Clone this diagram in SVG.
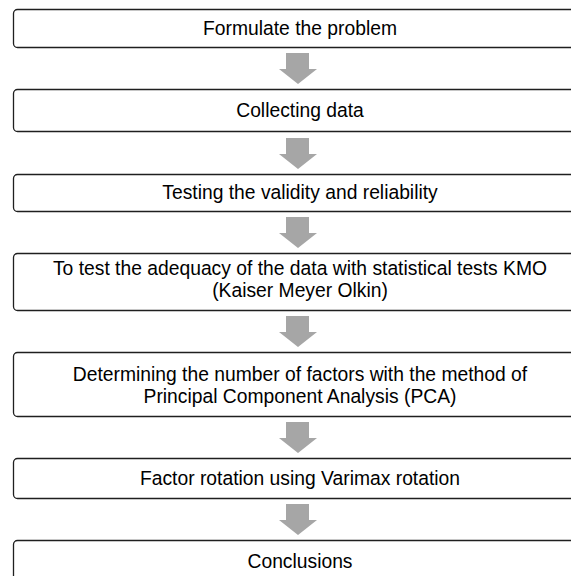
<svg xmlns="http://www.w3.org/2000/svg" width="571" height="576" viewBox="0 0 571 576">
<style>
.box{fill:#fff;stroke:#1f1f1f;stroke-width:1.3}
.t{font-family:"Liberation Sans",Arial,sans-serif;font-size:19.3px;fill:#000;text-anchor:middle}
.arr{fill:#a6a6a6}
</style>
<defs>
<path id="a" d="M286 0H309V16H317L298 31L279 16H286Z"/>
</defs>
<rect width="571" height="576" fill="#fff"/>
<g id="connectors">
<use href="#a" class="arr" y="53"/>
<use href="#a" class="arr" y="138"/>
<use href="#a" class="arr" y="217"/>
<use href="#a" class="arr" y="316"/>
<use href="#a" class="arr" y="422"/>
<use href="#a" class="arr" y="504"/>
</g>
<g id="n1"><rect class="box" x="13.5" y="9.5" width="573" height="38" rx="4"/><text class="t" x="300" y="35">Formulate the problem</text></g>
<g id="n2"><rect class="box" x="13.5" y="89.5" width="573" height="42" rx="4"/><text class="t" x="300" y="117">Collecting data</text></g>
<g id="n3"><rect class="box" x="13.5" y="174.5" width="573" height="37" rx="4"/><text class="t" x="300" y="199">Testing the validity and reliability</text></g>
<g id="n4"><rect class="box" x="13.5" y="253.5" width="573" height="57" rx="4"/><text class="t" x="300" y="275">To test the adequacy of the data with statistical tests KMO</text><text class="t" x="300" y="297">(Kaiser Meyer Olkin)</text></g>
<g id="n5"><rect class="box" x="13.5" y="352.5" width="573" height="64" rx="4"/><text class="t" x="300" y="381">Determining the number of factors with the method of</text><text class="t" x="300" y="403">Principal Component Analysis (PCA)</text></g>
<g id="n6"><rect class="box" x="13.5" y="458.5" width="573" height="40" rx="4"/><text class="t" x="300" y="485">Factor rotation using Varimax rotation</text></g>
<g id="n7"><rect class="box" x="13.5" y="540.5" width="573" height="42" rx="4"/><text class="t" x="300" y="568">Conclusions</text></g>
</svg>
